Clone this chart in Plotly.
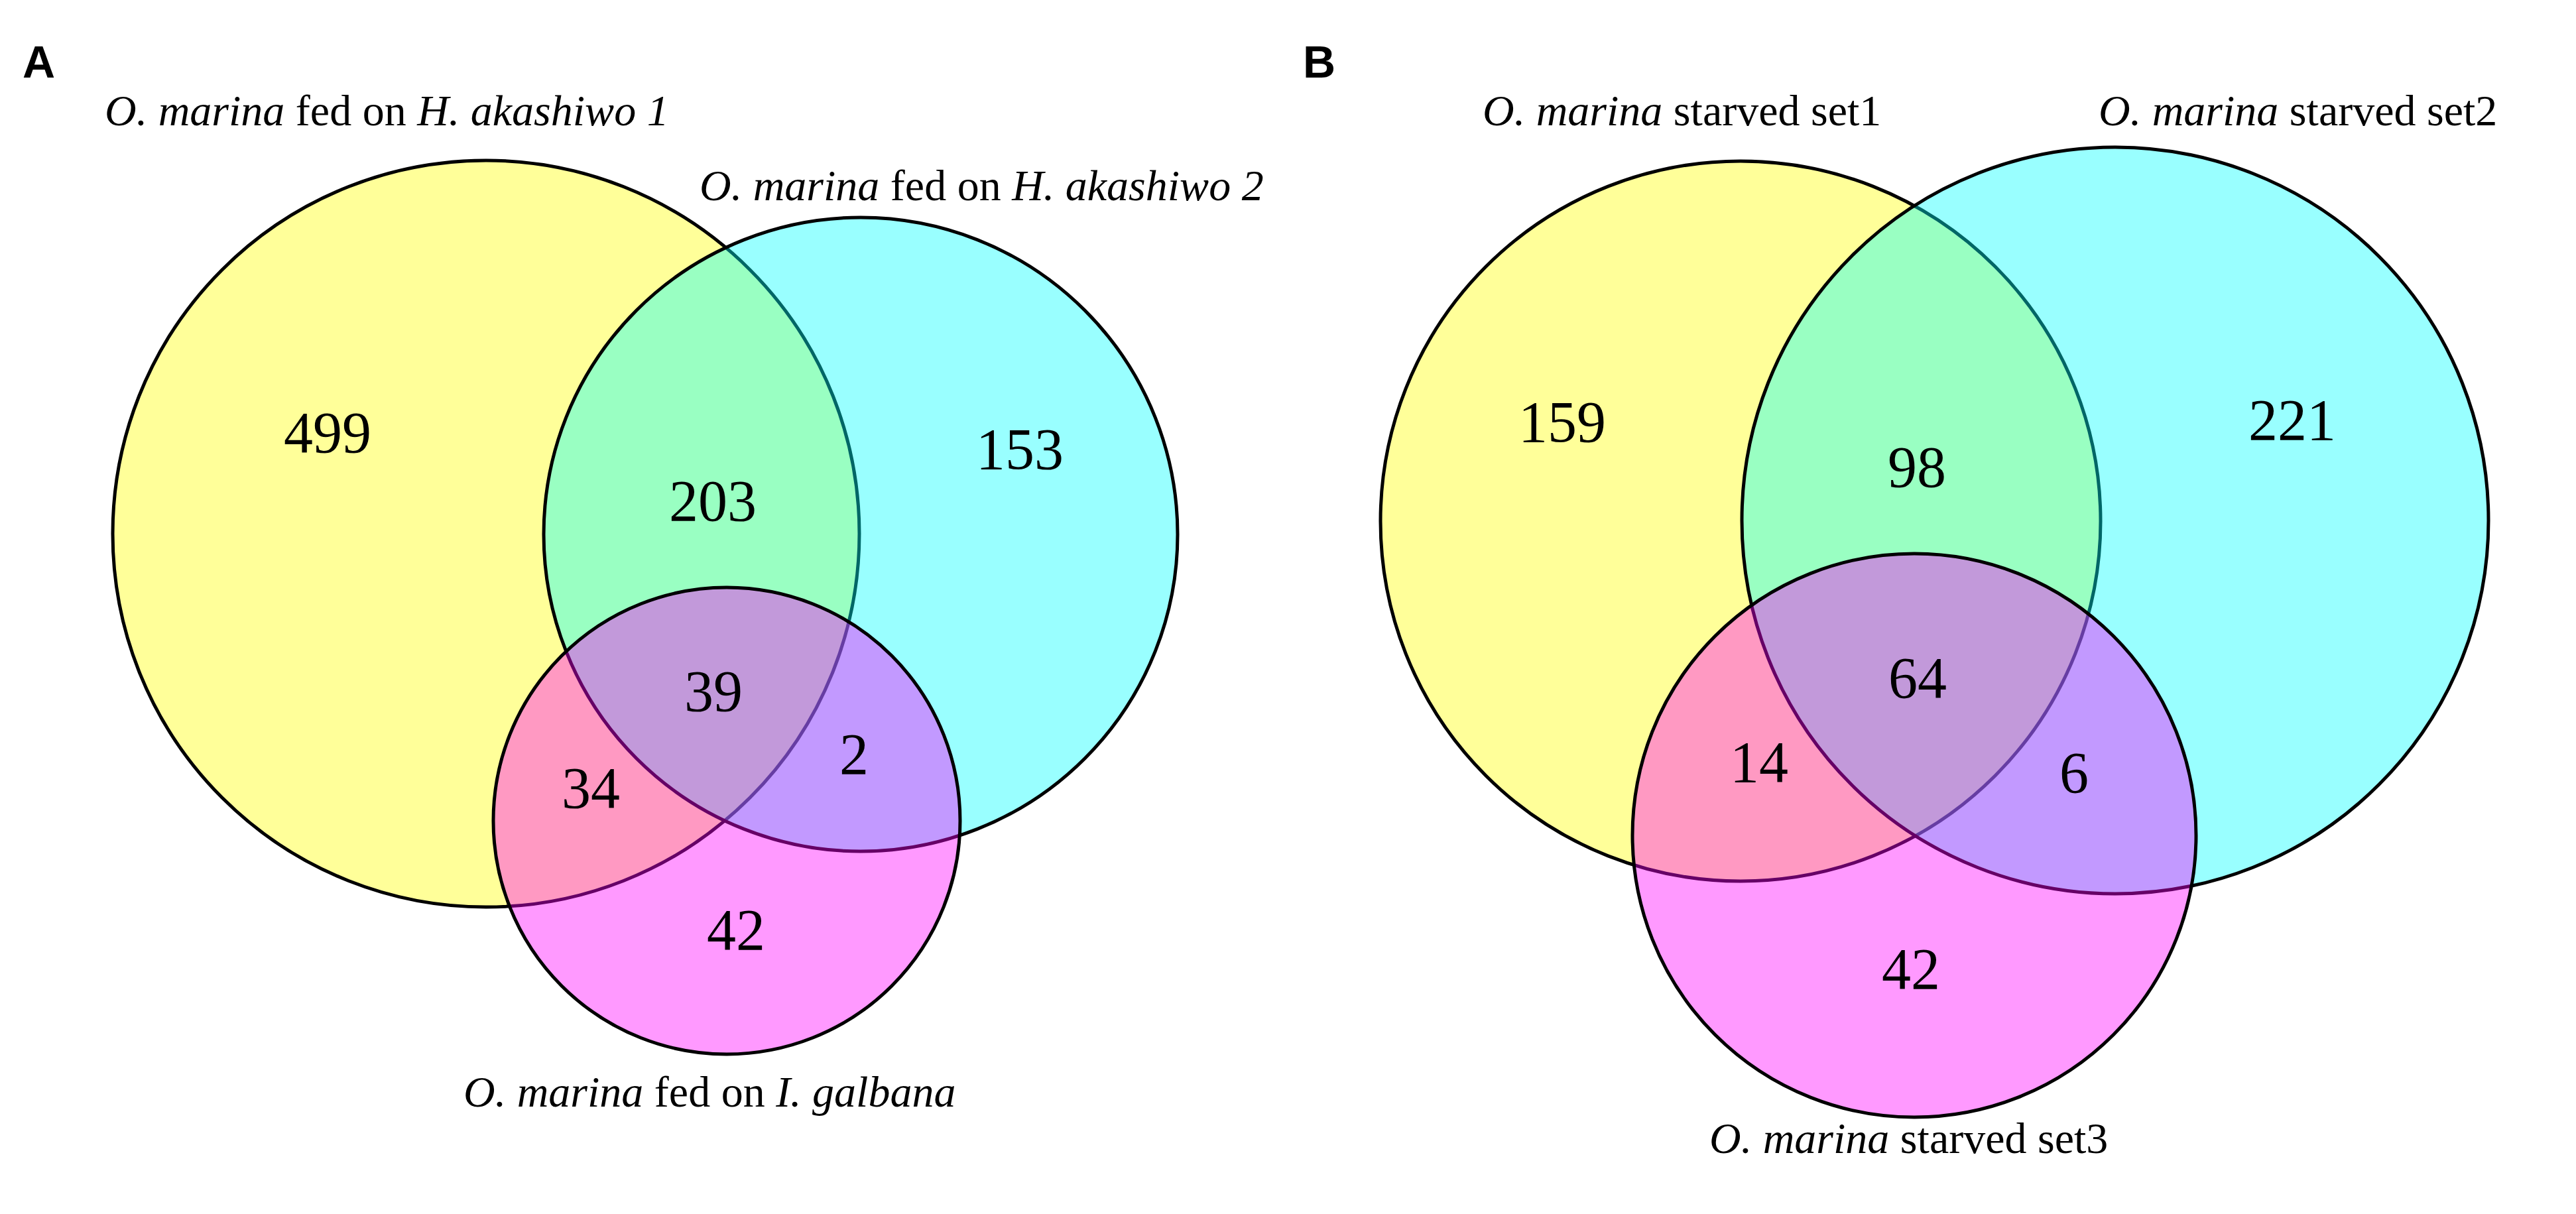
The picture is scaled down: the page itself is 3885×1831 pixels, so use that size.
import plotly.graph_objects as go

W, H = 3885, 1831
PAD = 8  # default body margin of the html page

# ------------------------------------------------------------------
# Data
# ------------------------------------------------------------------
sets_a = [
    "<i>O. marina</i> fed on <i>H. akashiwo 1</i>",
    "<i>O. marina</i> fed on <i>H. akashiwo 2</i>",
    "<i>O. marina</i> fed on <i>I. galbana</i>",
]
sets_b = [
    "<i>O. marina</i> starved set1",
    "<i>O. marina</i> starved set2",
    "<i>O. marina</i> starved set3",
]
# region order: only1, only2, 1&2, 1&2&3, 1&3, 2&3, only3
counts_a = [499, 153, 203, 39, 34, 2, 42]
counts_b = [159, 221, 98, 64, 14, 6, 42]

# ------------------------------------------------------------------
# Layout (pixel space)
# ------------------------------------------------------------------
circles_a = [(733, 805, 563), (1298, 806, 478), (1096, 1238, 352)]
circles_b = [(2625, 786, 543), (3190, 785, 563), (2887, 1260, 425)]
label_pos_a = [(583, 166), (1480, 279), (1070, 1646)]
label_pos_b = [(2536, 166), (3465, 166), (2878, 1716)]
count_pos_a = [(494, 660), (1538, 685), (1075, 763), (1076, 1050),
               (891, 1196), (1288, 1145), (1110, 1410)]
count_pos_b = [(2356, 644), (3457, 641), (2891, 712), (2892, 1030),
               (2653, 1157), (3128, 1173), (2882, 1469)]
panel_tags = [("A", 58, 93), ("B", 1989, 93)]

fills = ["rgba(255,255,0,0.4)", "rgba(0,255,255,0.4)", "rgba(255,0,255,0.4)"]
serif = "Liberation Serif, Times New Roman, serif"

fig = go.Figure()

shapes = []
for circles in (circles_a, circles_b):
    for (cx, cy, r), fc in zip(circles, fills):
        shapes.append(dict(
            type="circle", xref="x", yref="y", layer="below",
            x0=cx - r, x1=cx + r, y0=cy - r, y1=cy + r,
            fillcolor=fc, line=dict(color="black", width=5),
        ))

for counts, pos in ((counts_a, count_pos_a), (counts_b, count_pos_b)):
    fig.add_trace(go.Scatter(
        x=[p[0] for p in pos], y=[p[1] for p in pos],
        mode="text", text=[str(c) for c in counts],
        textfont=dict(family=serif, size=88, color="black"),
        textposition="middle center", hoverinfo="skip", showlegend=False,
    ))

annotations = []
for labels, pos in ((sets_a, label_pos_a), (sets_b, label_pos_b)):
    for lab, (x, y) in zip(labels, pos):
        annotations.append(dict(
            x=x, y=y, xref="x", yref="y", text=lab, showarrow=False,
            xanchor="center", yanchor="middle",
            font=dict(family=serif, size=66, color="black"),
        ))
for tag, x, y in panel_tags:
    annotations.append(dict(
        x=x, y=y, xref="x", yref="y", text="<b>%s</b>" % tag, showarrow=False,
        xanchor="center", yanchor="middle",
        font=dict(family="Liberation Sans, Arial, sans-serif", size=68, color="black"),
    ))

fig.update_layout(
    width=W - 2 * PAD, height=H - 2 * PAD,
    margin=dict(l=0, r=0, t=0, b=0),
    paper_bgcolor="white", plot_bgcolor="white",
    xaxis=dict(range=[PAD, W - PAD], visible=False, fixedrange=True),
    yaxis=dict(range=[H - PAD, PAD], visible=False, fixedrange=True),
    shapes=shapes, annotations=annotations,
)

fig.write_html("out.html")
